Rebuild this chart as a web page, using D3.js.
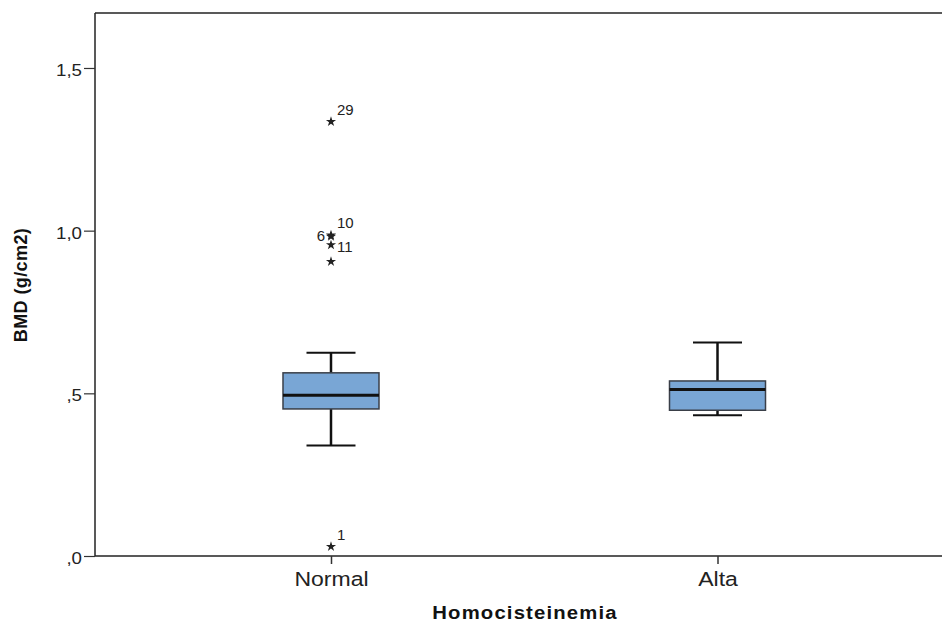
<!DOCTYPE html>
<html>
<head>
<meta charset="utf-8">
<script src="https://cdn.jsdelivr.net/npm/d3@7"></script>
<style>
  body { margin: 0; background: #fff; }
  svg { display: block; font-family: "Liberation Sans", Arial, sans-serif; }
</style>
</head>
<body>
<svg id="chart" width="942" height="622"></svg>
<script>
// categories and box stats
let groups = ["Normal", "Alta"];
let whiskerLow = [0.340, 0.433];
let q1 = [0.452, 0.448];
let median = [0.494, 0.512];
let q3 = [0.563, 0.538];
let whiskerHigh = [0.625, 0.656];

// labelled extreme values (all in Normal group)
let outlierGroup = ["Normal", "Normal", "Normal", "Normal", "Normal", "Normal"];
let outlierValue = [1.335, 0.986, 0.982, 0.956, 0.905, 0.029];
let outlierLabel = ["29", "10", "6", "11", "", "1"];

let yTicks = [0, 0.5, 1.0, 1.5];
let yTickLabels = [",0", ",5", "1,0", "1,5"];

let svg = d3.select("#chart");
let plotLeft = 95, plotTop = 13, plotBottom = 556, plotRight = 953.5;

let y = d3.scaleLinear().domain([0, 1.669]).range([plotBottom, plotTop]);
let x = d3.scalePoint().domain(groups).range([plotLeft, plotRight]).padding(0.6106);

// frame: top line
svg.append("line")
  .attr("x1", plotLeft).attr("x2", plotRight)
  .attr("y1", plotTop).attr("y2", plotTop)
  .attr("stroke", "#222").attr("stroke-width", 1.5);

// y axis
let yAxis = d3.axisLeft(y)
  .tickValues(yTicks)
  .tickSize(11)
  .tickFormat((d, i) => yTickLabels[i]);
let gy = svg.append("g").attr("transform", "translate(" + plotLeft + ",0)").call(yAxis);
gy.select(".domain").attr("stroke", "#222").attr("stroke-width", 1.5).attr("d", "M0," + plotTop + "V" + plotBottom);
gy.selectAll(".tick line").attr("stroke", "#333").attr("stroke-width", 1.2);
gy.selectAll(".tick text")
  .attr("font-size", 17).attr("fill", "#222")
  .attr("x", -13 / 1.1).attr("dy", "0.45em")
  .attr("transform", "scale(1.1,1)");

// x axis
let xAxis = d3.axisBottom(x).tickSize(8);
let gx = svg.append("g").attr("transform", "translate(0," + plotBottom + ")").call(xAxis);
gx.select(".domain").attr("stroke", "#222").attr("stroke-width", 1.5).attr("d", "M" + plotLeft + ",0H" + plotRight);
gx.selectAll(".tick line").attr("stroke", "#333").attr("stroke-width", 1.5);
gx.selectAll(".tick text")
  .attr("font-size", 19.5).attr("fill", "#222")
  .attr("y", 30).attr("dy", null)
  .attr("transform", "scale(1.18,1)");

// axis titles
svg.append("text")
  .attr("transform", "translate(27," + 285 + ") rotate(-90)")
  .attr("text-anchor", "middle")
  .attr("font-size", 18).attr("font-weight", "bold").attr("fill", "#111")
  .attr("letter-spacing", 0.4)
  .text("BMD (g/cm2)");

svg.append("text")
  .attr("transform", "translate(525,619) scale(1.16,1)")
  .attr("text-anchor", "middle")
  .attr("font-size", 17.5).attr("font-weight", "bold").attr("fill", "#111")
  .attr("letter-spacing", 1)
  .text("Homocisteinemia");

// boxes
let boxW = 96, capW = 49;
let boxes = groups.map((g, i) => ({
  g: g, lo: whiskerLow[i], q1: q1[i], med: median[i], q3: q3[i], hi: whiskerHigh[i]
}));

let bg = svg.selectAll(".box").data(boxes).enter().append("g").attr("class", "box");

// whisker stems
bg.append("line")
  .attr("x1", d => x(d.g)).attr("x2", d => x(d.g))
  .attr("y1", d => y(d.hi)).attr("y2", d => y(d.q3))
  .attr("stroke", "#111").attr("stroke-width", 2.5);
bg.append("line")
  .attr("x1", d => x(d.g)).attr("x2", d => x(d.g))
  .attr("y1", d => y(d.q1)).attr("y2", d => y(d.lo))
  .attr("stroke", "#111").attr("stroke-width", 2.5);
// caps
bg.append("line")
  .attr("x1", d => x(d.g) - capW / 2).attr("x2", d => x(d.g) + capW / 2)
  .attr("y1", d => y(d.hi)).attr("y2", d => y(d.hi))
  .attr("stroke", "#111").attr("stroke-width", 2);
bg.append("line")
  .attr("x1", d => x(d.g) - capW / 2).attr("x2", d => x(d.g) + capW / 2)
  .attr("y1", d => y(d.lo)).attr("y2", d => y(d.lo))
  .attr("stroke", "#111").attr("stroke-width", 2);
// box
bg.append("rect")
  .attr("x", d => x(d.g) - boxW / 2)
  .attr("y", d => y(d.q3))
  .attr("width", boxW)
  .attr("height", d => y(d.q1) - y(d.q3))
  .attr("fill", "#79a6d5")
  .attr("stroke", "#3a3f48").attr("stroke-width", 1.5);
// median
bg.append("line")
  .attr("x1", d => x(d.g) - boxW / 2).attr("x2", d => x(d.g) + boxW / 2)
  .attr("y1", d => y(d.med)).attr("y2", d => y(d.med))
  .attr("stroke", "#111").attr("stroke-width", 3);

// extreme values
let outliers = outlierValue.map((v, i) => ({
  g: outlierGroup[i], v: v, label: outlierLabel[i]
}));
let star = d3.symbol().type(d3.symbolStar).size(32);

let og = svg.selectAll(".out").data(outliers).enter().append("g").attr("class", "out")
  .attr("transform", d => "translate(" + x(d.g) + "," + y(d.v) + ")");
og.append("path").attr("d", star).attr("fill", "#222");
og.append("text")
  .attr("x", d => d.label === "6" ? -6 : 6)
  .attr("y", d => d.label === "11" ? 7 : (d.label === "6" ? 4 : -7))
  .attr("text-anchor", d => d.label === "6" ? "end" : "start")
  .attr("font-size", 15).attr("fill", "#222")
  .text(d => d.label);
</script>
</body>
</html>
